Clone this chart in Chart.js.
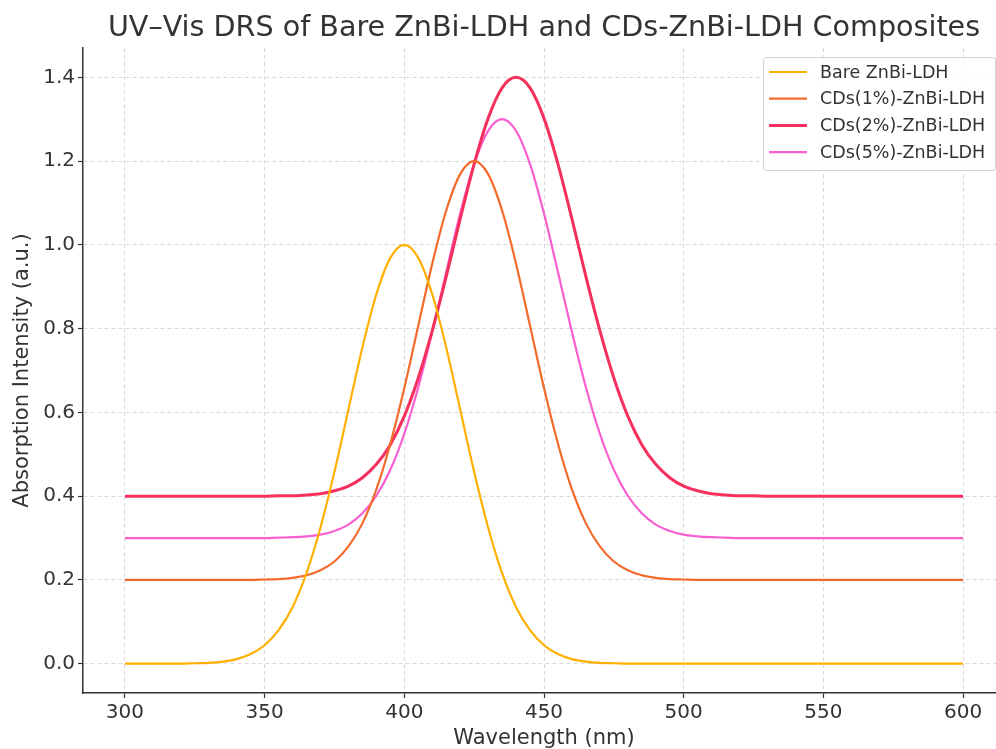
<!DOCTYPE html>
<html>
<head>
<meta charset="utf-8">
<title>UV–Vis DRS</title>
<script src="https://cdn.jsdelivr.net/npm/chart.js@4/dist/chart.umd.min.js"></script>
<style>
  html, body { margin: 0; padding: 0; background: #fff; overflow: hidden; }
  #wrap { width: 1010px; height: 749px; position: relative; }
</style>
</head>
<body>
<div id="wrap"><canvas id="myChart"></canvas></div>
<script>
// wavelengths (nm), 5 nm steps
const wavelengths = [
  300, 305, 310, 315, 320, 325, 330, 335, 340, 345,
  350, 355, 360, 365, 370, 375, 380, 385, 390, 395,
  400, 405, 410, 415, 420, 425, 430, 435, 440, 445,
  450, 455, 460, 465, 470, 475, 480, 485, 490, 495,
  500, 505, 510, 515, 520, 525, 530, 535, 540, 545,
  550, 555, 560, 565, 570, 575, 580, 585, 590, 595, 600
];

const bare = [
  0, 0, 0, 0, 0, 0.001, 0.002, 0.005, 0.011, 0.023,
  0.044, 0.080, 0.135, 0.216, 0.325, 0.458, 0.607, 0.755, 0.882, 0.969,
  1.000, 0.969, 0.882, 0.755, 0.607, 0.458, 0.325, 0.216, 0.135, 0.080,
  0.044, 0.023, 0.011, 0.005, 0.002, 0.001, 0, 0, 0, 0,
  0, 0, 0, 0, 0, 0, 0, 0, 0, 0,
  0, 0, 0, 0, 0, 0, 0, 0, 0, 0, 0
];

const cds1 = [
  0.2, 0.2, 0.2, 0.2, 0.2, 0.2, 0.2, 0.2, 0.2, 0.2,
  0.201, 0.202, 0.205, 0.211, 0.223, 0.244, 0.280, 0.335, 0.416, 0.525,
  0.658, 0.807, 0.955, 1.082, 1.169, 1.200, 1.169, 1.082, 0.955, 0.807,
  0.658, 0.525, 0.416, 0.335, 0.280, 0.244, 0.223, 0.211, 0.205, 0.202,
  0.201, 0.2, 0.2, 0.2, 0.2, 0.2, 0.2, 0.2, 0.2, 0.2,
  0.2, 0.2, 0.2, 0.2, 0.2, 0.2, 0.2, 0.2, 0.2, 0.2, 0.2
];

const cds2 = [
  0.4, 0.4, 0.4, 0.4, 0.4, 0.4, 0.4, 0.4, 0.4, 0.4,
  0.400, 0.401, 0.401, 0.403, 0.406, 0.413, 0.424, 0.444, 0.476, 0.523,
  0.591, 0.682, 0.795, 0.924, 1.062, 1.193, 1.302, 1.375, 1.400, 1.375,
  1.302, 1.193, 1.062, 0.924, 0.795, 0.682, 0.591, 0.523, 0.476, 0.444,
  0.424, 0.413, 0.406, 0.403, 0.401, 0.401, 0.400, 0.4, 0.4, 0.4,
  0.4, 0.4, 0.4, 0.4, 0.4, 0.4, 0.4, 0.4, 0.4, 0.4, 0.4
];

const cds5 = [
  0.3, 0.3, 0.3, 0.3, 0.3, 0.3, 0.3, 0.3, 0.3, 0.3,
  0.300, 0.301, 0.302, 0.304, 0.308, 0.317, 0.332, 0.359, 0.401, 0.463,
  0.549, 0.660, 0.792, 0.935, 1.075, 1.193, 1.272, 1.300, 1.272, 1.193,
  1.075, 0.935, 0.792, 0.660, 0.549, 0.463, 0.401, 0.359, 0.332, 0.317,
  0.308, 0.304, 0.302, 0.301, 0.300, 0.3, 0.3, 0.3, 0.3, 0.3,
  0.3, 0.3, 0.3, 0.3, 0.3, 0.3, 0.3, 0.3, 0.3, 0.3, 0.3
];

const seriesLabels = ['Bare ZnBi-LDH', 'CDs(1%)-ZnBi-LDH', 'CDs(2%)-ZnBi-LDH', 'CDs(5%)-ZnBi-LDH'];
const xTicks = [300, 350, 400, 450, 500, 550, 600];
const yTicks = [0, 0.2, 0.4, 0.6, 0.8, 1.0, 1.2, 1.4];

const colors = ['#ffb000', '#f46a2b', '#f5305c', '#f95fd0'];
const widths = [2.2, 2.2, 3, 2.2];
const FONT = 'DejaVu Sans';
const TEXT = '#333333';

function toPoints(vals) {
  return wavelengths.map((w, i) => ({ x: w, y: vals[i] }));
}

// legend drawn inside the plot, top right
const innerLegend = {
  id: 'innerLegend',
  afterDraw(chart) {
    const c = chart.ctx;
    const sets = chart.data.datasets;
    const x0 = 763, y0 = 57, w = 232, h = 113;
    c.save();
    c.fillStyle = 'rgba(255,255,255,0.85)';
    c.strokeStyle = '#d0d0d0';
    c.lineWidth = 1;
    c.beginPath();
    c.roundRect(x0 + 0.5, y0 + 0.5, w, h, 3);
    c.fill();
    c.stroke();
    c.font = '17.5px "' + FONT + '"';
    c.textBaseline = 'middle';
    sets.forEach((ds, i) => {
      const yy = y0 + 15 + i * 26.7;
      c.strokeStyle = ds.borderColor;
      c.lineWidth = ds.borderWidth;
      c.beginPath();
      c.moveTo(769, yy);
      c.lineTo(807, yy);
      c.stroke();
      c.fillStyle = TEXT;
      c.fillText(ds.label, 820, yy + 1);
    });
    c.restore();
  }
};

const gridOpts = {
  color: '#cfcfcf',
  lineWidth: 0.8,
  drawTicks: true,
  tickLength: 5,
  tickColor: TEXT,
  tickWidth: 1.2,
  tickBorderDash: []
};

let ctx = document.getElementById('myChart');

new Chart(ctx, {
  type: 'line',
  data: {
    datasets: [bare, cds1, cds2, cds5].map((vals, i) => ({
      label: seriesLabels[i],
      data: toPoints(vals),
      borderColor: colors[i],
      backgroundColor: colors[i],
      borderWidth: widths[i],
      pointRadius: 0,
      fill: false,
      cubicInterpolationMode: 'monotone'
    }))
  },
  options: {
    responsive: true,
    maintainAspectRatio: false,
    animation: false,
    layout: { padding: { left: 0, right: 5, top: 0, bottom: 0 } },
    plugins: {
      legend: { display: false },
      tooltip: { enabled: false },
      title: {
        display: true,
        text: 'UV–Vis DRS of Bare ZnBi-LDH and CDs-ZnBi-LDH Composites',
        color: TEXT,
        fullSize: false,
        font: { family: FONT, size: 28.6, weight: 'normal', lineHeight: 1.2 },
        padding: { top: 11, bottom: 2.7 }
      }
    },
    scales: {
      x: {
        type: 'linear',
        min: 285,
        max: 615,
        afterBuildTicks: (s) => { s.ticks = xTicks.map(v => ({ value: v })); },
        afterFit: (s) => { s.height = 56; },
        grid: gridOpts,
        border: { display: true, color: TEXT, width: 1.5, dash: [4, 3] },
        ticks: {
          color: TEXT,
          padding: 3,
          maxRotation: 0,
          font: { family: FONT, size: 20 },
          callback: (v) => String(v)
        },
        title: {
          display: true,
          text: 'Wavelength (nm)',
          color: TEXT,
          font: { family: FONT, size: 21, lineHeight: 1.0 },
          padding: { top: 0, bottom: 0 }
        }
      },
      y: {
        type: 'linear',
        min: -0.07,
        max: 1.47,
        afterBuildTicks: (s) => { s.ticks = yTicks.map(v => ({ value: v })); },
        afterFit: (s) => { s.width = 83; },
        grid: gridOpts,
        border: { display: true, color: TEXT, width: 1.5, dash: [4, 3] },
        ticks: {
          color: TEXT,
          padding: 3,
          font: { family: FONT, size: 20 },
          callback: (v) => v.toFixed(1)
        },
        title: {
          display: true,
          text: 'Absorption Intensity (a.u.)',
          color: TEXT,
          font: { family: FONT, size: 21, lineHeight: 1.2 },
          padding: { top: 10, bottom: 0 }
        }
      }
    }
  },
  plugins: [innerLegend]
});
</script>
</body>
</html>
